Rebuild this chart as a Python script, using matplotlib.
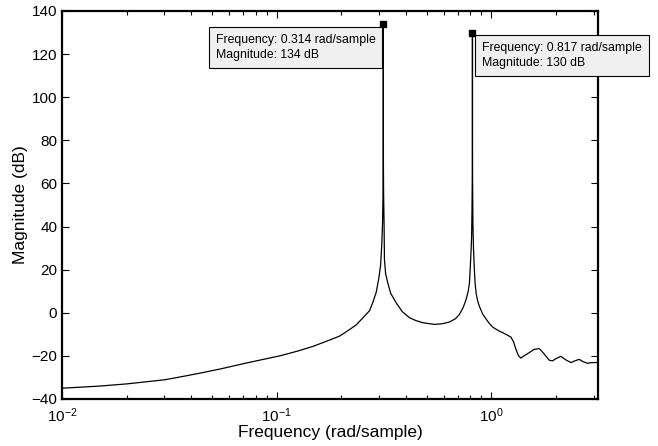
import matplotlib
matplotlib.use("Agg")
import matplotlib.pyplot as plt
from matplotlib.ticker import LogLocator, NullFormatter

plt.rcParams['font.family'] = ['Liberation Sans', 'DejaVu Sans']
plt.rcParams['mathtext.fontset'] = 'custom'
plt.rcParams['mathtext.rm'] = 'Liberation Sans'
plt.rcParams['mathtext.it'] = 'Liberation Sans:italic'
plt.rcParams['mathtext.bf'] = 'Liberation Sans:bold'

# Frequency response
freq = [0.01, 0.015, 0.02, 0.03, 0.0354, 0.044, 0.055, 0.0723, 0.1033, 0.125,
        0.1475, 0.175, 0.1965, 0.2185, 0.2348, 0.252, 0.271, 0.281, 0.291, 0.2992,
        0.305, 0.309, 0.3115, 0.313, 0.3137, 0.314, 0.3143, 0.315, 0.3165, 0.3179,
        0.322, 0.3295, 0.34, 0.3605, 0.385, 0.416, 0.445, 0.479, 0.543, 0.59,
        0.6375, 0.68, 0.71, 0.74, 0.7627, 0.781, 0.791, 0.8, 0.806, 0.81,
        0.813, 0.8162, 0.817, 0.8178, 0.821, 0.826, 0.834, 0.84, 0.85, 0.864,
        0.88, 0.911, 0.944, 0.98, 1.014, 1.051, 1.09, 1.129, 1.18, 1.235,
        1.27, 1.302, 1.34, 1.374, 1.42, 1.502, 1.58, 1.672, 1.76, 1.861,
        1.928, 2.0, 2.11, 2.22, 2.35, 2.45, 2.567, 2.68, 2.806, 2.96, 3.1416]
mag_db = [-35.0, -34.0, -33.0, -31.1, -29.8, -28.0, -26.0, -23.3, -20.0, -17.8,
          -15.6, -12.8, -10.8, -7.8, -5.6, -2.4, 1.0, 5.0, 9.5, 16.0,
          22.0, 32.0, 42.0, 55.0, 70.0, 134.0, 70.0, 55.0, 42.0, 24.6,
          18.0, 13.8, 9.0, 4.6, 0.5, -2.3, -3.6, -4.6, -5.4, -5.1,
          -4.3, -2.8, -0.8, 2.5, 6.1, 10.0, 13.8, 23.0, 30.0, 36.0,
          48.0, 65.0, 130.0, 65.0, 42.0, 30.0, 20.0, 14.0, 9.0, 5.5,
          3.0, -0.5, -2.8, -5.0, -6.6, -7.6, -8.5, -9.2, -10.2, -11.3,
          -13.5, -16.9, -20.0, -21.0, -20.0, -18.5, -17.0, -16.6, -19.0, -22.0,
          -22.3, -21.3, -20.2, -21.8, -23.1, -22.3, -21.6, -22.7, -23.4, -23.1, -23.1]

tip_freq = [0.314, 0.817]
tip_mag = [134, 130]
tip_labels = ["Frequency: 0.314 rad/sample\nMagnitude: 134 dB",
              "Frequency: 0.817 rad/sample\nMagnitude: 130 dB"]

fig = plt.figure(figsize=(6.58, 4.46), dpi=100)
ax = fig.add_axes([62/658, 1-399/446, (598-62)/658, (399-11)/446])

ax.plot(freq, mag_db, color='black', lw=0.9)
ax.set_xscale('log')
ax.set_xlim(0.01, 3.1416)
ax.set_ylim(-40, 140)
ax.set_yticks(range(-40, 141, 20))
ax.xaxis.set_major_locator(LogLocator(base=10, numticks=10))
ax.xaxis.set_minor_locator(LogLocator(base=10, subs=range(2, 10), numticks=100))
ax.xaxis.set_minor_formatter(NullFormatter())

ax.tick_params(which='both', direction='in', top=True, right=True, labelsize=11, width=0.8)
ax.tick_params(which='major', length=5)
ax.tick_params(which='minor', length=3)
ax.tick_params(axis='x', pad=5)
for s in ax.spines.values():
    s.set_linewidth(1.6)

ax.set_xlabel('Frequency (rad/sample)', fontsize=12.5, labelpad=0)
ax.set_ylabel('Magnitude (dB)', fontsize=12.5, labelpad=2)

# data tips
ax.plot(tip_freq, tip_mag, 's', color='black', ms=5, clip_on=False, zorder=5)
offsets = [(-5.5, -7.0), (7.0, -6.6)]
has = ['right', 'left']
for f, m, lab, off, ha in zip(tip_freq, tip_mag, tip_labels, offsets, has):
    ax.annotate(lab, xy=(f, m), xytext=off, textcoords='offset points',
                ha=ha, va='top', multialignment='left', fontsize=8.8,
                annotation_clip=False, linespacing=1.4,
                bbox=dict(boxstyle='square,pad=0.55', fc='#f0f0f0', ec='black', lw=0.8),
                zorder=6)

fig.savefig('out.png', dpi=100)
